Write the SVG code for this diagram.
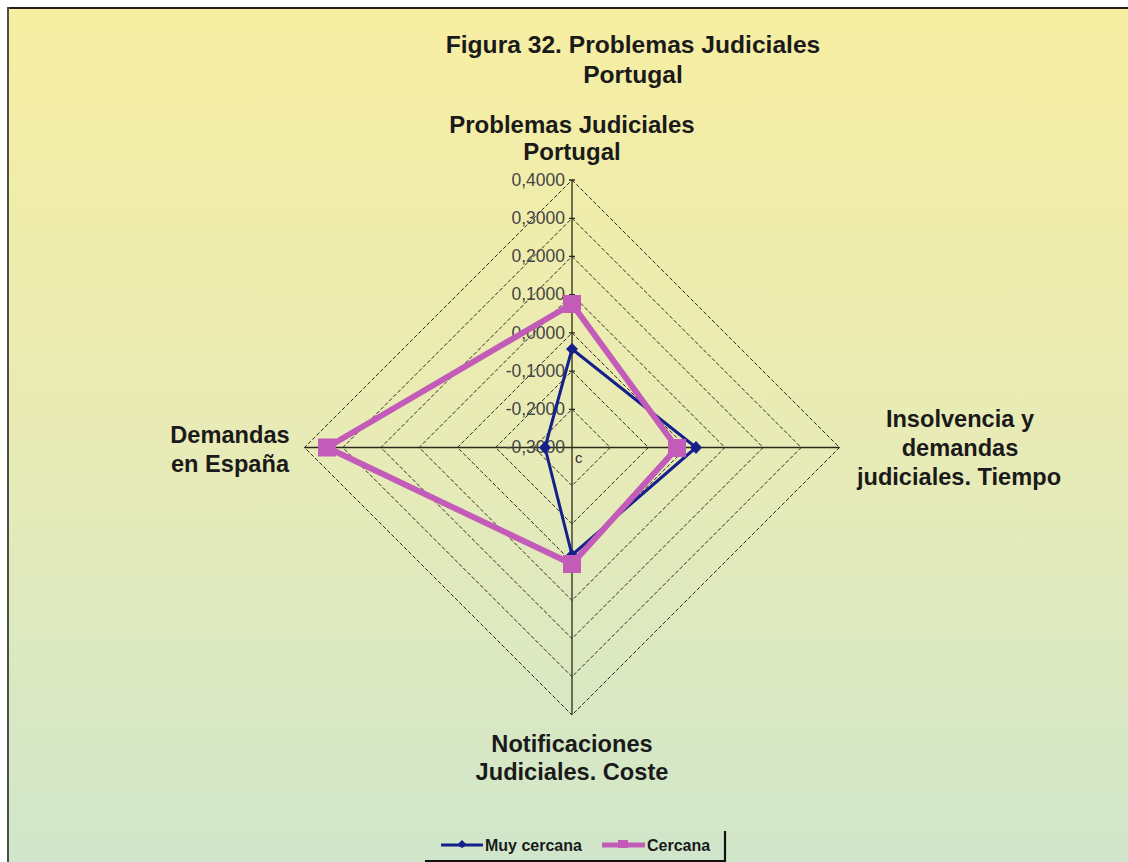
<svg xmlns="http://www.w3.org/2000/svg" width="1128" height="862" viewBox="0 0 1128 862">
<defs>
<linearGradient id="bg" x1="0" y1="0" x2="0" y2="1">
<stop offset="0" stop-color="#F7EEA2"/>
<stop offset="0.5" stop-color="#E8EBB6"/>
<stop offset="1" stop-color="#CFE6CB"/>
</linearGradient>
<style>
.t{font-family:"Liberation Sans",Arial,sans-serif;font-weight:bold;fill:#1a1a1a;text-anchor:middle}
.tick{font-family:"Liberation Sans",Arial,sans-serif;font-size:17.5px;fill:#444;text-anchor:end}
.grid{fill:none;stroke:#2e2e22;stroke-width:1;stroke-dasharray:4 2}
.axis{stroke:#2a2a1a;stroke-width:1.3}
.blue{fill:none;stroke:#16208a;stroke-width:3;stroke-linejoin:round}
.pink{fill:none;stroke:#C35CB9;stroke-width:6;stroke-linejoin:round}
.leg{font-family:"Liberation Sans",Arial,sans-serif;font-weight:bold;font-size:16px;fill:#1a1a1a}
</style>
</defs>
<rect x="0" y="0" width="1128" height="862" fill="#ffffff"/>
<rect x="8" y="8" width="1130" height="870" fill="url(#bg)"/>
<line x1="7" y1="8" x2="1128" y2="8" stroke="#2a2018" stroke-width="2"/>
<line x1="8" y1="7" x2="8" y2="862" stroke="#4a5048" stroke-width="2"/>

<g id="title">
<text class="t" x="633" y="53" font-size="24.6">Figura 32. Problemas Judiciales</text>
<text class="t" x="633" y="83" font-size="24.6">Portugal</text>
</g>

<g id="grid">
<polygon class="grid" points="572,409.3 610.2,447.5 572,485.7 533.8,447.5"/>
<polygon class="grid" points="572,371.1 648.4,447.5 572,523.9 495.6,447.5"/>
<polygon class="grid" points="572,332.9 686.6,447.5 572,562.1 457.4,447.5"/>
<polygon class="grid" points="572,294.6 724.9,447.5 572,600.4 419.1,447.5"/>
<polygon class="grid" points="572,256.4 763.1,447.5 572,638.6 380.9,447.5"/>
<polygon class="grid" points="572,218.3 801.2,447.5 572,676.7 342.8,447.5"/>
<polygon class="grid" points="572,180 839.5,447.5 572,715 304.5,447.5"/>
</g>

<g id="axes">
<line class="axis" x1="572" y1="180" x2="572" y2="715"/>
<line class="axis" x1="304.5" y1="447.5" x2="839.5" y2="447.5"/>
<path class="axis" d="M569,180H575M569,218.3H575M569,256.4H575M569,294.6H575M569,332.9H575M569,371.1H575M569,409.3H575"/>
</g>

<g id="ticks">
<text class="tick" x="565" y="186">0,4000</text>
<text class="tick" x="565" y="224">0,3000</text>
<text class="tick" x="565" y="262">0,2000</text>
<text class="tick" x="565" y="300">0,1000</text>
<text class="tick" x="565" y="339">0,0000</text>
<text class="tick" x="565" y="377">-0,1000</text>
<text class="tick" x="565" y="415">-0,2000</text>
<text class="tick" x="565" y="453">-0,3000</text>
<text x="575" y="463" font-family="Liberation Sans,Arial,sans-serif" font-size="15" fill="#333">c</text>
</g>

<g id="series-muy-cercana">
<polygon class="blue" points="572,349 696,447.5 572,555 545,447.5"/>
<g fill="#16208a">
<polygon points="572,343 578,349 572,355 566,349"/>
<polygon points="696,441 702,447.5 696,454 690,447.5"/>
<polygon points="572,549 578,555 572,561 566,555"/>
<polygon points="545,441 551,447.5 545,454 539,447.5"/>
</g>
</g>

<g id="series-cercana">
<polygon class="pink" points="572,304 677,448 572,564 327,447.5"/>
<g fill="#C35CB9">
<rect x="563" y="295" width="18" height="18"/>
<rect x="668" y="439" width="18" height="18"/>
<rect x="563" y="555" width="18" height="18"/>
<rect x="318" y="438.5" width="18" height="18"/>
</g>
</g>

<g id="axis-labels">
<text class="t" x="572" y="133" font-size="24">Problemas Judiciales</text>
<text class="t" x="572" y="160" font-size="24">Portugal</text>
<text class="t" x="960" y="427" font-size="23.6">Insolvencia y</text>
<text class="t" x="960" y="456" font-size="23.6">demandas</text>
<text class="t" x="959" y="485" font-size="23.6">judiciales. Tiempo</text>
<text class="t" x="230" y="443" font-size="23.6">Demandas</text>
<text class="t" x="230" y="472" font-size="23.6">en España</text>
<text class="t" x="572" y="752" font-size="23.6">Notificaciones</text>
<text class="t" x="572" y="780" font-size="23.6">Judiciales. Coste</text>
</g>

<g id="legend">
<path d="M725,831V861H425" fill="none" stroke="#111" stroke-width="2.2"/>
<line x1="441" y1="845" x2="483" y2="845" stroke="#16208a" stroke-width="3"/>
<polygon points="462,840 467,845 462,848 457,845" fill="#16208a"/>
<text class="leg" x="485" y="851">Muy cercana</text>
<line x1="602" y1="845" x2="645" y2="845" stroke="#C35CB9" stroke-width="5"/>
<rect x="618" y="840" width="10" height="8" fill="#C35CB9"/>
<text class="leg" x="647" y="851">Cercana</text>
</g>
</svg>
